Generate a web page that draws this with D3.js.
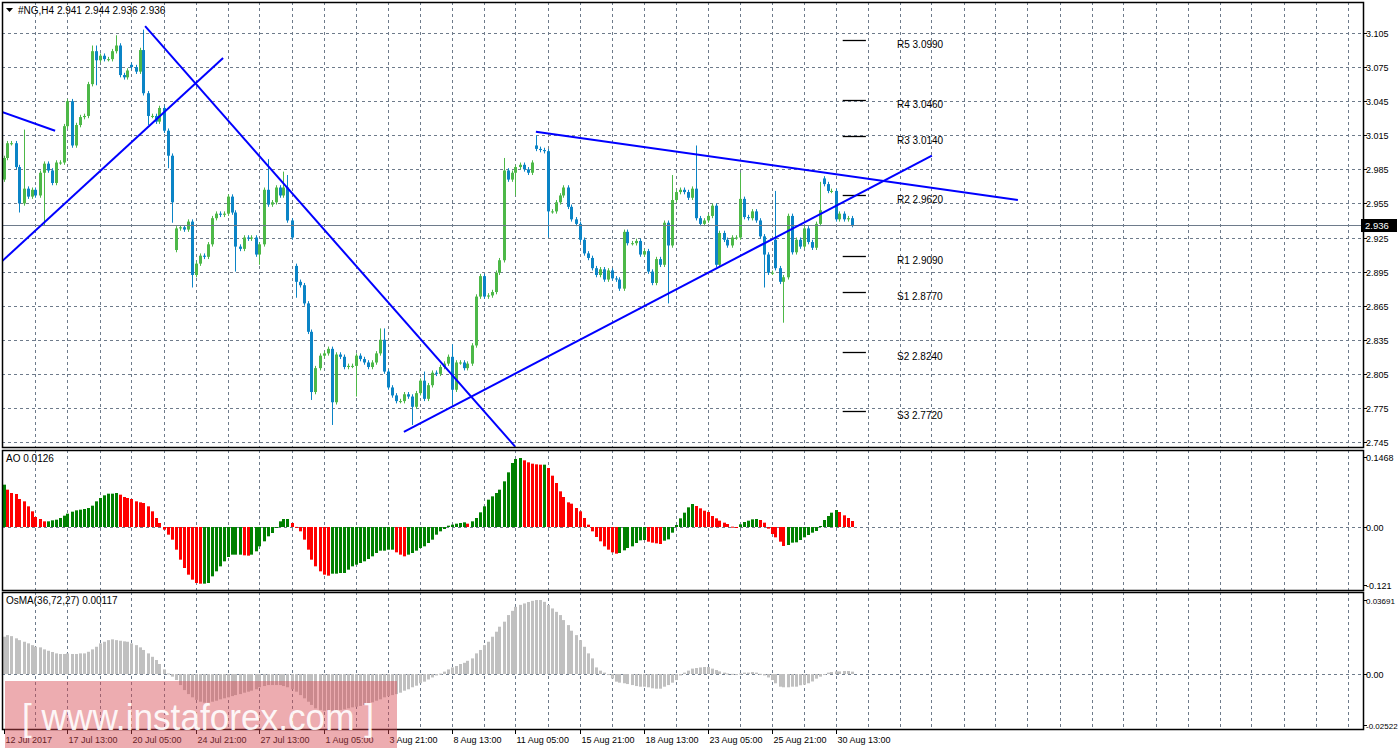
<!doctype html>
<html>
<head>
<meta charset="utf-8">
<script src="https://d3js.org/d3.v7.min.js"></script>
<style>
  body { margin: 0; background: #fff; }
  text { font-family: "Liberation Sans", Arial, sans-serif; }
</style>
</head>
<body>
<svg id="chart" width="1398" height="750"></svg>
<script>
// closing prices, H4 bars from 12 Jul 2017
const closes = [
  2.995,3.008,3.008,2.987,2.955,2.968,2.961,2.967,2.962,2.982,2.990,2.984,2.973,2.991,2.991,3.023,
  3.045,3.006,3.024,3.031,3.032,3.060,3.089,3.081,3.085,3.082,3.082,3.089,3.094,3.068,3.066,3.072,
  3.075,3.071,3.090,3.052,3.032,3.032,3.027,3.039,3.019,2.997,2.956,2.933,2.934,2.932,2.939,2.892,
  2.902,2.909,2.908,2.919,2.942,2.946,2.945,2.946,2.961,2.947,2.917,2.915,2.925,2.924,2.925,2.910,
  2.919,2.967,2.954,2.956,2.969,2.962,2.969,2.940,2.925,2.886,2.883,2.867,2.842,2.789,2.810,2.821,
  2.823,2.827,2.780,2.822,2.820,2.811,2.812,2.812,2.821,2.818,2.815,2.811,2.815,2.823,2.835,2.807,
  2.793,2.786,2.781,2.781,2.787,2.785,2.776,2.788,2.799,2.783,2.795,2.806,2.805,2.811,2.814,2.820,
  2.791,2.815,2.815,2.810,2.814,2.830,2.873,2.891,2.873,2.874,2.877,2.894,2.905,2.984,2.976,2.982,
  2.987,2.989,2.985,2.982,2.991,3.003,3.002,3.001,2.948,2.948,2.956,2.962,2.969,2.952,2.941,2.937,
  2.923,2.911,2.907,2.898,2.892,2.897,2.888,2.896,2.889,2.888,2.880,2.930,2.920,2.920,2.922,2.910,
  2.913,2.895,2.885,2.906,2.901,2.938,2.918,2.958,2.965,2.967,2.965,2.960,2.968,2.942,2.937,2.940,
  2.944,2.953,2.901,2.929,2.923,2.918,2.925,2.925,2.959,2.943,2.942,2.948,2.940,2.926,2.910,2.894,
  2.894,2.898,2.886,2.890,2.944,2.912,2.923,2.917,2.933,2.921,2.916,2.937,2.949,2.972,2.966,2.966,
  2.941,2.946,2.941,2.942,2.936
];
// bars that did not open at the previous close: [bar, open]
const gapOpens = [[0, 2.976], [32, 3.077], [43, 2.914], [73, 2.900], [133, 3.006], [193, 2.923], [205, 2.977]];
// long wicks: [bar, high, low]
const longWicks = [
  [4, null, 2.947], [5, 3.020, null], [10, null, 2.936], [22, 3.094, null], [23, 3.094, 3.059],
  [28, 3.103, null], [35, 3.108, null], [36, null, 3.024], [41, null, 2.986], [42, null, 2.938],
  [47, null, 2.881], [58, null, 2.895], [64, null, 2.901], [66, 2.994, null], [70, 2.983, null],
  [71, 2.980, null], [73, null, 2.872], [77, null, 2.782], [82, null, 2.760], [88, null, 2.785],
  [94, 2.845, null], [95, 2.845, null], [102, null, 2.760], [105, 2.807, null], [112, 2.831, 2.778],
  [125, 2.995, null], [128, null, 2.962], [133, 3.015, null], [136, null, 2.925], [166, null, 2.867],
  [167, 2.980, null], [173, 3.006, null], [184, 2.982, null], [190, null, 2.881], [193, 2.966, null],
  [195, null, 2.850], [204, 2.974, null]
];
const aoValues = [
  .0889,.0784,.0714,.0693,.0588,.0539,.0434,.0329,.0210,.0168,.0119,.0119,.0140,.0154,.0189,.0238,
  .0280,.0322,.0350,.0364,.0378,.0399,.0448,.0539,.0609,.0665,.0700,.0700,.0714,.0679,.0630,.0609,
  .0588,.0539,.0518,.0504,.0434,.0329,.0189,.0084,-.0056,-.0161,-.0266,-.0476,-.0686,-.0861,-.1001,-.1106,
  -.1176,-.1190,-.1190,-.1176,-.1036,-.0931,-.0826,-.0721,-.0630,-.0581,-.0581,-.0581,-.0595,-.0602,-.0581,-.0511,
  -.0406,-.0301,-.0196,-.0126,-.0021,.0119,.0168,.0168,.0084,.0002,-.0091,-.0266,-.0476,-.0686,-.0826,-.0931,
  -.1001,-.1022,-.0980,-.0980,-.0966,-.0966,-.0896,-.0826,-.0791,-.0756,-.0721,-.0672,-.0616,-.0546,-.0497,-.0497,
  -.0476,-.0476,-.0532,-.0581,-.0616,-.0581,-.0546,-.0497,-.0441,-.0406,-.0336,-.0266,-.0161,-.0091,-.0042,.0028,
  .0049,.0070,.0084,.0098,.0070,.0119,.0189,.0308,.0434,.0574,.0644,.0714,.0784,.0959,.1148,.1344,
  .1428,.1449,.1400,.1358,.1330,.1316,.1309,.1309,.1239,.1078,.0924,.0749,.0630,.0518,.0490,.0399,
  .0329,.0189,.0049,-.0091,-.0210,-.0301,-.0406,-.0476,-.0532,-.0560,-.0546,-.0490,-.0441,-.0406,-.0336,-.0280,
  -.0273,-.0308,-.0329,-.0343,-.0357,-.0287,-.0259,-.0119,.0042,.0182,.0301,.0413,.0483,.0441,.0392,.0343,
  .0315,.0231,.0182,.0133,.0091,.0063,.0007,-.0003,.0056,.0105,.0133,.0161,.0168,.0147,.0091,-.0035,
  -.0147,-.0217,-.0308,-.0399,-.0378,-.0329,-.0322,-.0273,-.0217,-.0168,-.0119,-.0084,.0021,.0147,.0231,.0301,
  .0357,.0315,.0245,.0189,.0126
];
const osmaValues = [
  .0186,.0194,.0189,.0178,.0169,.0161,.0153,.0144,.0136,.0133,.0123,.0116,.0110,.0103,.0100,.0100,
  .0103,.0100,.0100,.0103,.0103,.0111,.0123,.0136,.0153,.0161,.0169,.0173,.0169,.0166,.0163,.0161,
  .0153,.0144,.0133,.0120,.0103,.0086,.0070,.0050,.0023,.0003,-.0013,-.0030,-.0055,-.0080,-.0100,-.0116,
  -.0129,-.0138,-.0143,-.0143,-.0138,-.0133,-.0126,-.0121,-.0116,-.0110,-.0105,-.0100,-.0093,-.0088,-.0083,-.0076,
  -.0066,-.0060,-.0055,-.0055,-.0055,-.0055,-.0060,-.0066,-.0076,-.0088,-.0105,-.0121,-.0138,-.0154,-.0171,-.0179,
  -.0183,-.0183,-.0183,-.0183,-.0179,-.0176,-.0171,-.0166,-.0163,-.0159,-.0154,-.0146,-.0141,-.0133,-.0126,-.0116,
  -.0110,-.0105,-.0100,-.0093,-.0083,-.0076,-.0066,-.0058,-.0046,-.0038,-.0027,-.0017,-.0007,.0002,.0012,.0023,
  .0033,.0040,.0050,.0056,.0066,.0078,.0103,.0120,.0144,.0161,.0186,.0211,.0236,.0261,.0294,.0315,
  .0335,.0345,.0352,.0359,.0365,.0369,.0369,.0360,.0344,.0327,.0310,.0294,.0269,.0244,.0216,.0194,
  .0169,.0136,.0103,.0078,.0033,.0017,.0007,-.0005,-.0022,-.0038,-.0043,-.0046,-.0050,-.0055,-.0060,-.0063,
  -.0063,-.0066,-.0071,-.0073,-.0073,-.0063,-.0055,-.0043,-.0030,-.0007,.0007,.0017,.0027,.0030,.0033,.0035,
  .0035,.0027,.0020,.0013,.0007,.0003,.0001,-.0002,.0003,.0007,.0007,.0010,.0007,.0001,-.0007,-.0017,
  -.0030,-.0046,-.0063,-.0066,-.0066,-.0063,-.0063,-.0056,-.0053,-.0046,-.0037,-.0023,-.0013,-.0005,.0007,.0010,
  .0013,.0013,.0015,.0015,.0012
];
const priceTicks = [3.105,3.075,3.045,3.015,2.985,2.955,2.925,2.895,2.865,2.835,2.805,2.775,2.745];
const timeLabels = ["12 Jul 2017","17 Jul 13:00","20 Jul 05:00","24 Jul 21:00","27 Jul 13:00","1 Aug 05:00",
  "3 Aug 21:00","8 Aug 13:00","11 Aug 05:00","15 Aug 21:00","18 Aug 13:00","23 Aug 05:00","25 Aug 21:00","30 Aug 13:00"];
const pivots = [["R5", 3.099], ["R4", 3.046], ["R3", 3.014], ["R2", 2.962], ["R1", 2.909], ["S1", 2.877], ["S2", 2.824], ["S3", 2.772]];
// trend lines: [bar1, price1, bar2, price2]
const trendLines = [
  [-0.4, 3.0355, 12.9, 3.019],
  [-0.4, 2.904, 54.9, 3.083],
  [35.4, 3.111, 127.9, 2.741],
  [100.1, 2.754, 232.1, 2.997],
  [133.1, 3.018, 253.6, 2.958]
];

const svg = d3.select("#chart");
const left = 2, right = 1363;
const grid = "#6e7b8b";

const x = d3.scaleLinear().domain([0, 212]).range([3.5, 851.5]);
const y = d3.scaleLinear().domain([2.7406, 3.1323]).range([447, 2]);
const yAo = d3.scaleLinear().domain([-0.1323, 0.1617]).range([590, 450]);
const yOs = d3.scaleLinear().domain([-0.0274, 0.0409]).range([729, 592]);

const panels = [[2, 447], [450, 590], [592, 729]];

// vertical dashed grid, every 8 bars
const vgrid = d3.range(8, 340, 8).map(i => x(i)).filter(v => v < right - 4);
panels.forEach(([t, b]) => {
  svg.append("g").selectAll("line").data(vgrid).join("line")
    .attr("x1", d => Math.round(d) + 0.5).attr("x2", d => Math.round(d) + 0.5)
    .attr("y1", t).attr("y2", b)
    .attr("stroke", grid).attr("stroke-dasharray", "3,3");
});
svg.append("g").selectAll("line").data(priceTicks).join("line")
  .attr("x1", left).attr("x2", right)
  .attr("y1", d => Math.round(y(d)) + 0.5).attr("y2", d => Math.round(y(d)) + 0.5)
  .attr("stroke", grid).attr("stroke-dasharray", "3,3");
[yAo, yOs].forEach(s => {
  svg.append("line").attr("x1", left).attr("x2", right)
    .attr("y1", Math.round(s(0)) + 0.5).attr("y2", Math.round(s(0)) + 0.5)
    .attr("stroke", grid).attr("stroke-dasharray", "3,3");
});

// pivot levels
pivots.forEach(([name, p]) => {
  svg.append("line").attr("x1", x(209.8)).attr("x2", x(215.6))
    .attr("y1", Math.round(y(p)) + 0.5).attr("y2", Math.round(y(p)) + 0.5)
    .attr("stroke", "#000").attr("stroke-width", 1.3);
  svg.append("text").attr("x", 897).attr("y", y(p) + 8)
    .attr("font-size", 10).attr("fill", "#000").text(name + " " + p.toFixed(4));
});

// candles
const opens = closes.map((c, i) => i > 0 ? closes[i - 1] : c);
gapOpens.forEach(([i, o]) => opens[i] = o);
const highs = closes.map((c, i) => Math.max(c, opens[i]) + 0.002);
const lows = closes.map((c, i) => Math.min(c, opens[i]) - 0.002);
longWicks.forEach(([i, h, l]) => { if (h != null) highs[i] = h; if (l != null) lows[i] = l; });

const bars = closes.map((c, i) => ({ i, o: opens[i], c, h: highs[i], l: lows[i] }));
const col = d => d.c >= d.o ? "#4db848" : "#0b84c6";
const cg = svg.append("g");
cg.selectAll("line").data(bars).join("line")
  .attr("x1", d => Math.round(x(d.i)) + 0.5).attr("x2", d => Math.round(x(d.i)) + 0.5)
  .attr("y1", d => y(d.h)).attr("y2", d => y(d.l))
  .attr("stroke", col);
cg.selectAll("rect").data(bars).join("rect")
  .attr("x", d => Math.round(x(d.i)) - 1).attr("width", 3)
  .attr("y", d => y(Math.max(d.o, d.c)))
  .attr("height", d => Math.max(1, Math.abs(y(d.o) - y(d.c))))
  .attr("fill", col);

// current price line
const last = closes[closes.length - 1];
svg.append("line").attr("x1", left).attr("x2", right)
  .attr("y1", Math.round(y(last)) + 0.5).attr("y2", Math.round(y(last)) + 0.5)
  .attr("stroke", "#6e7b8b");

// trend lines, clipped to main panel
svg.append("clipPath").attr("id", "mainClip").append("rect")
  .attr("x", left).attr("y", 2).attr("width", right - left).attr("height", 445);
svg.append("g").attr("clip-path", "url(#mainClip)")
  .selectAll("line").data(trendLines).join("line")
  .attr("x1", d => x(d[0])).attr("y1", d => y(d[1]))
  .attr("x2", d => x(d[2])).attr("y2", d => y(d[3]))
  .attr("stroke", "#0000ff").attr("stroke-width", 2);

// AO histogram
svg.append("g").selectAll("rect").data(aoValues).join("rect")
  .attr("x", (d, i) => Math.round(x(i)) - 1).attr("width", 3)
  .attr("y", d => Math.min(yAo(d), yAo(0)))
  .attr("height", d => Math.max(1, Math.abs(yAo(d) - yAo(0))))
  .attr("fill", (d, i) => i > 0 && d < aoValues[i - 1] ? "#ff0000" : "#008000");

// OsMA histogram
svg.append("g").selectAll("rect").data(osmaValues).join("rect")
  .attr("x", (d, i) => Math.round(x(i)) - 1).attr("width", 3)
  .attr("y", d => Math.min(yOs(d), yOs(0)))
  .attr("height", d => Math.max(1, Math.abs(yOs(d) - yOs(0))))
  .attr("fill", "#c0c0c0");

// panel frames
panels.forEach(([t, b]) => {
  svg.append("rect").attr("x", left + 0.5).attr("y", t + 0.5)
    .attr("width", right - left).attr("height", b - t)
    .attr("fill", "none").attr("stroke", "#000").attr("stroke-width", 1.5);
});

// right axis labels
const axisText = (yy, t) => {
  svg.append("line").attr("x1", right).attr("x2", right + 4).attr("y1", Math.round(yy) + 0.5).attr("y2", Math.round(yy) + 0.5).attr("stroke", "#000");
  svg.append("text").attr("x", 1366).attr("y", yy + 4).attr("font-size", t.length > 6 ? 8 : 9).attr("fill", "#000").text(t);
};
priceTicks.forEach(p => axisText(y(p), p.toFixed(3)));
axisText(yAo(0.1468), "0.1468"); axisText(yAo(0), "0.00"); axisText(yAo(-0.121), "-0.121");
axisText(yOs(0.03691), "0.03691"); axisText(yOs(0), "0.00"); axisText(yOs(-0.02522), "-0.02522");
svg.append("rect").attr("x", 1361).attr("y", y(last) - 6).attr("width", 36).attr("height", 13).attr("fill", "#000");
svg.append("text").attr("x", 1365).attr("y", y(last) + 4).attr("font-size", 9.5).attr("fill", "#fff").text(last.toFixed(3));

// time axis
timeLabels.forEach((t, k) => {
  const xx = Math.round(x(k * 16)) + 0.5;
  svg.append("line").attr("x1", xx).attr("x2", xx).attr("y1", 729).attr("y2", 734).attr("stroke", "#000");
  svg.append("text").attr("x", xx + 1).attr("y", 743).attr("font-size", 9).attr("fill", "#000").text(t);
});

// headers
svg.append("path").attr("d", "M6,8 L13,8 L9.5,12 Z").attr("fill", "#000");
svg.append("text").attr("x", 18).attr("y", 14).attr("font-size", 10).text("#NG,H4  2.941 2.944 2.936 2.936");
svg.append("text").attr("x", 6).attr("y", 462).attr("font-size", 10).text("AO 0.0126");
svg.append("text").attr("x", 6).attr("y", 604).attr("font-size", 10).text("OsMA(36,72,27) 0.00117");

// watermark
svg.append("rect").attr("x", 5).attr("y", 681).attr("width", 392).attr("height", 67)
  .attr("fill", "rgb(214,70,80)").attr("opacity", 0.45);
svg.append("text").attr("x", 22).attr("y", 730).attr("font-size", 36)
  .attr("textLength", 352).attr("lengthAdjust", "spacingAndGlyphs")
  .attr("fill", "#fff").attr("opacity", 0.9)
  .text("[  www.instaforex.com ]");
</script>
</body>
</html>
